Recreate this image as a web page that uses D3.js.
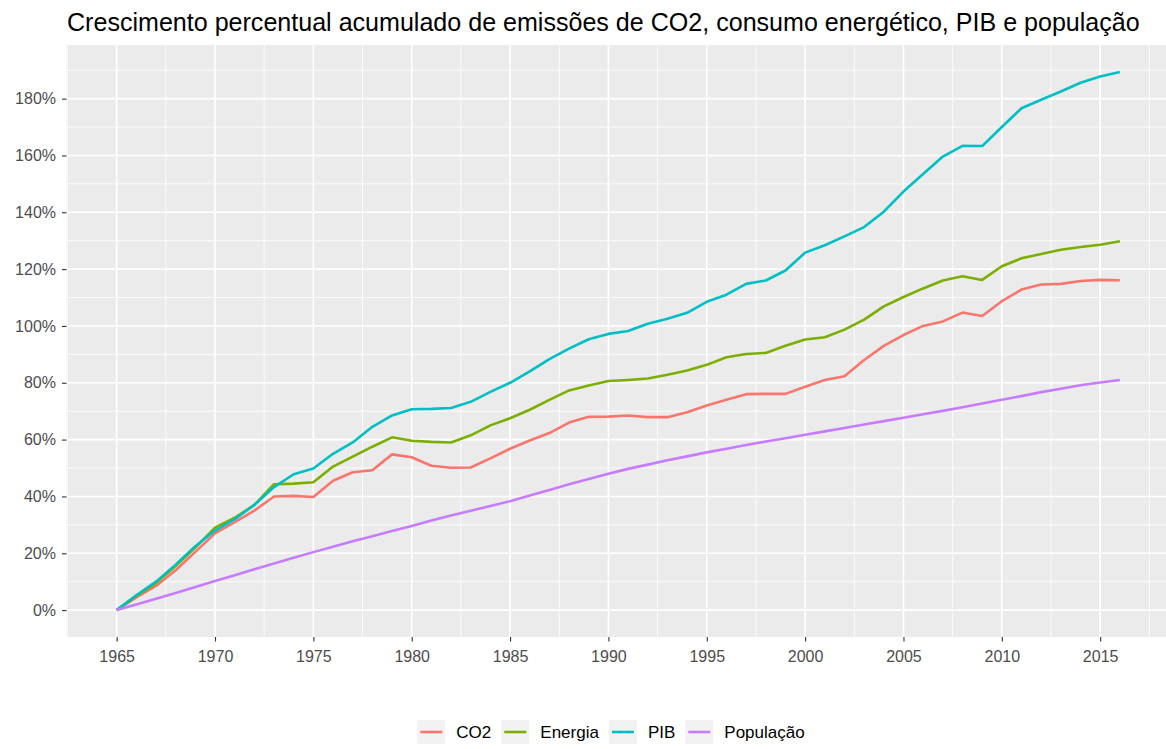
<!DOCTYPE html>
<html>
<head>
<meta charset="utf-8">
<script src="https://cdn.jsdelivr.net/npm/d3@7"></script>
<style>
  body { margin: 0; background: #fff; }
  text { font-family: "Liberation Sans", Arial, sans-serif; }
</style>
</head>
<body>
<svg id="chart" width="1166" height="749"></svg>
<script>
// anos 1965-2016
const years = d3.range(1965, 2017);

// crescimento acumulado (%) em relação a 1965
const co2 = [0, 4.5, 8.5, 14, 20.5, 27, 31, 35, 40, 40.2,
  39.8, 45.5, 48.5, 49.2, 54.8, 53.8, 50.8, 50.1, 50.2, 53.4,
  56.8, 59.7, 62.3, 66, 68, 68.1, 68.5, 67.9, 67.9, 69.6,
  72, 74, 76, 76.1, 76.1, 78.6, 81, 82.3, 88, 93,
  96.8, 100, 101.6, 104.7, 103.5, 108.7, 112.8, 114.6, 114.8, 115.8,
  116.2, 116.1];
const energia = [0, 5, 9.5, 15.5, 22, 29, 32.5, 37, 44.3, 44.5,
  45, 50.5, 54, 57.5, 60.8, 59.6, 59.2, 59, 61.5, 65,
  67.5, 70.5, 74, 77.3, 79, 80.6, 81, 81.5, 82.8, 84.3,
  86.3, 89, 90.1, 90.5, 93, 95.2, 96, 98.7, 102.2, 106.9,
  110.2, 113.2, 116, 117.5, 116.2, 121, 123.8, 125.3, 126.8, 127.8,
  128.6, 129.8];
const pib = [0, 5.2, 10, 16, 22.5, 28, 32, 37, 43.3, 47.8,
  49.8, 55, 59, 64.5, 68.5, 70.7, 70.8, 71.1, 73.3, 76.8,
  80, 84, 88.3, 92, 95.3, 97.2, 98.2, 100.8, 102.5, 104.6,
  108.5, 111, 114.8, 116, 119.5, 125.8, 128.4, 131.5, 134.8, 140.2,
  147.3, 153.5, 159.6, 163.4, 163.3, 170, 176.6, 179.6, 182.5, 185.6,
  187.8, 189.4];
const populacao = [0, 2, 4, 6, 8.1, 10.2, 12.3, 14.4, 16.4, 18.4,
  20.4, 22.3, 24.2, 26, 27.8, 29.6, 31.5, 33.3, 35, 36.6,
  38.3, 40.3, 42.3, 44.3, 46.1, 48, 49.7, 51.2, 52.7, 54.1,
  55.5, 56.8, 58.1, 59.3, 60.5, 61.7, 62.9, 64.1, 65.3, 66.5,
  67.7, 68.9, 70.1, 71.4, 72.7, 74, 75.3, 76.7, 77.9, 79.1,
  80.1, 81];

const seriesNames = ["CO2", "Energia", "PIB", "População"];
const seriesValues = [co2, energia, pib, populacao];
const colors = ["#F8766D", "#7CAE00", "#00BFC4", "#C77CFF"];

const xTicks = d3.range(1965, 2016, 5);
const yTicks = d3.range(0, 181, 20);

const title = "Crescimento percentual acumulado de emissões de CO2, consumo energético, PIB e população";

const series = seriesNames.map((name, i) => ({
  name: name,
  color: colors[i],
  points: years.map((yr, j) => ({year: yr, value: seriesValues[i][j]}))
}));

const svg = d3.select("#chart");
const panel = {left: 66.5, right: 1170, top: 45, bottom: 637};

// escalas com expansão de 5% como no ggplot
function expand(ext) {
  const pad = (ext[1] - ext[0]) * 0.05;
  return [ext[0] - pad, ext[1] + pad];
}
const x = d3.scaleLinear()
  .domain(expand(d3.extent(years)))
  .range([panel.left, panel.right]);
const allValues = seriesValues.flat();
const y = d3.scaleLinear()
  .domain(expand(d3.extent(allValues)))
  .range([panel.bottom, panel.top]);

// fundo do painel
svg.append("rect")
  .attr("x", panel.left)
  .attr("y", panel.top)
  .attr("width", panel.right - panel.left)
  .attr("height", panel.bottom - panel.top)
  .attr("fill", "#EBEBEB");

// grade menor
const xMinor = xTicks.map(t => t - 2.5).concat([xTicks[xTicks.length - 1] + 2.5]);
const yMinor = d3.range(10, 200, 20).filter(v => y(v) >= panel.top);
const grid = svg.append("g");
grid.selectAll(".xminor").data(xMinor).enter().append("line")
  .attr("x1", d => x(d)).attr("x2", d => x(d))
  .attr("y1", panel.top).attr("y2", panel.bottom)
  .attr("stroke", "#fff").attr("stroke-width", 0.8);
grid.selectAll(".yminor").data(yMinor).enter().append("line")
  .attr("x1", panel.left).attr("x2", panel.right)
  .attr("y1", d => y(d)).attr("y2", d => y(d))
  .attr("stroke", "#fff").attr("stroke-width", 0.8);
// grade maior
grid.selectAll(".xmajor").data(xTicks).enter().append("line")
  .attr("x1", d => x(d)).attr("x2", d => x(d))
  .attr("y1", panel.top).attr("y2", panel.bottom)
  .attr("stroke", "#fff").attr("stroke-width", 1.6);
grid.selectAll(".ymajor").data(yTicks).enter().append("line")
  .attr("x1", panel.left).attr("x2", panel.right)
  .attr("y1", d => y(d)).attr("y2", d => y(d))
  .attr("stroke", "#fff").attr("stroke-width", 1.6);

// linhas
const line = d3.line()
  .x(d => x(d.year))
  .y(d => y(d.value));
svg.append("g").selectAll("path").data(series).enter().append("path")
  .attr("d", d => line(d.points))
  .attr("fill", "none")
  .attr("stroke", d => d.color)
  .attr("stroke-width", 2.6)
  .attr("stroke-linejoin", "round");

// eixos
const xAxis = svg.append("g")
  .attr("transform", `translate(0,${panel.bottom})`)
  .call(d3.axisBottom(x).tickValues(xTicks).tickFormat(d3.format("d")).tickSize(4.5).tickPadding(5));
const yAxis = svg.append("g")
  .attr("transform", `translate(${panel.left},0)`)
  .call(d3.axisLeft(y).tickValues(yTicks).tickFormat(d => d + "%").tickSize(4.5).tickPadding(6));
[xAxis, yAxis].forEach(ax => {
  ax.select(".domain").remove();
  ax.selectAll(".tick line").attr("stroke", "#333").attr("stroke-width", 1.1);
  ax.selectAll(".tick text")
    .attr("fill", "#4D4D4D")
    .style("font-size", "16px")
    .style("font-family", '"Liberation Sans", Arial, sans-serif');
});
xAxis.selectAll(".tick text").attr("dy", "0.95em");

// título
const titleText = svg.append("text")
  .attr("x", 67)
  .attr("y", 31)
  .attr("fill", "#000")
  .style("font-size", "24px")
  .text(title);
const tw = titleText.node().getComputedTextLength();
titleText.style("font-size", (24 * 1073 / tw).toFixed(2) + "px");

// legenda
const legendY = 732;
const keyW = 28, keyH = 24;
const legend = svg.append("g");
let lx = 0;
series.forEach(s => {
  const g = legend.append("g").attr("transform", `translate(${lx},0)`);
  g.append("rect")
    .attr("x", 0).attr("y", legendY - keyH / 2)
    .attr("width", keyW).attr("height", keyH)
    .attr("fill", "#F2F2F2");
  g.append("line")
    .attr("x1", 3).attr("x2", keyW - 3)
    .attr("y1", legendY).attr("y2", legendY)
    .attr("stroke", s.color).attr("stroke-width", 2.6);
  const t = g.append("text")
    .attr("x", keyW + 11)
    .attr("y", legendY + 6)
    .attr("fill", "#000")
    .style("font-size", "17px")
    .text(s.name);
  lx += keyW + 11 + t.node().getComputedTextLength() + 10;
});
const legendW = lx - 10;
legend.attr("transform", `translate(${(410 + 812) / 2 - legendW / 2},0)`);
</script>
</body>
</html>
